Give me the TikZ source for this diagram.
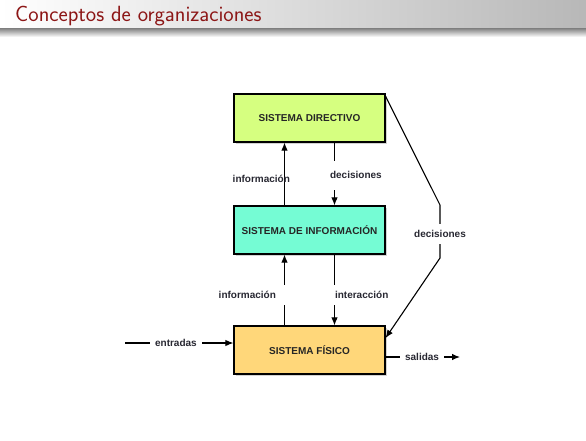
\documentclass[tikz,border=0pt]{standalone}
\usepackage{fontspec}
\setmainfont{Liberation Sans}
\usepackage{xcolor}
\usetikzlibrary{shadows, arrows.meta}

\definecolor{titlered}{RGB}{140,22,22}
\definecolor{dirgreen}{RGB}{214,255,128}
\definecolor{infocyan}{RGB}{117,252,212}
\definecolor{fisorange}{RGB}{255,215,122}
\definecolor{labelgray}{RGB}{40,40,50}

\begin{document}
\begin{tikzpicture}[
  x=1pt, y=-1pt,
  box/.style={draw=black, line width=1.2pt, minimum width=151pt, minimum height=48pt,
    font=\bfseries\fontsize{10}{12}\selectfont, text=black!85, align=center,
    drop shadow={shadow xshift=2pt, shadow yshift=-2pt, opacity=0.35}},
  lbl/.style={font=\bfseries\fontsize{10}{12}\selectfont, text=labelgray, inner sep=0pt},
  gap/.style={fill=white, inner xsep=3pt, inner ysep=8pt},
  arrow/.style={line width=1.1pt, -{Latex[length=8pt, width=6.5pt]}}
]
  \useasboundingbox (0,0) rectangle (586,441);

  % header bar
  \shade[left color=white, right color=black!28] (0,0) rectangle (586,29);
  \shade[top color=black!45, bottom color=white] (0,29) rectangle (586,37);
  \node[anchor=base west, inner sep=0pt, text=titlered,
    font=\sffamily\fontsize{22}{26}\selectfont] (title) at (15,21.5) {Conceptos de organizaciones};

  % boxes
  \node[box, fill=dirgreen] (dir) at (309.5,118) {SISTEMA DIRECTIVO};
  \node[box, fill=infocyan] (info) at (309.5,230) {SISTEMA DE INFORMACIÓN};
  \node[box, fill=fisorange] (fis) at (309.5,350) {SISTEMA FÍSICO};

  \coordinate (in) at (125,343);
  \coordinate (out) at (460,357);
  \coordinate (bend1) at (440,205);
  \coordinate (bend2) at (440,258);

  % connectors
  \draw[arrow] ([xshift=-25pt]info.north) -- ([xshift=-25pt]dir.south)
    node[lbl, pos=0.42, anchor=east, xshift=6pt] {información};
  \draw[arrow] ([xshift=25pt]dir.south) -- ([xshift=25pt]info.north)
    node[lbl, gap, pos=0.52, anchor=west, xshift=-8pt, inner ysep=11pt] {decisiones};
  \draw[arrow] ([xshift=-25pt]fis.north) -- ([xshift=-25pt]info.south)
    node[lbl, gap, pos=0.43, anchor=east, xshift=6pt, inner xsep=14pt, inner ysep=6pt] {información};
  \draw[arrow] ([xshift=25pt]info.south) -- ([xshift=25pt]fis.north)
    node[lbl, gap, pos=0.57, anchor=west, xshift=-3pt, inner ysep=6pt] {interacción};
  \draw[arrow] ([yshift=-3pt]dir.north east) -- (bend1) -- (bend2)
    node[lbl, gap, pos=0.55, inner ysep=6pt] {decisiones}
    -- ([yshift=12pt]fis.east);
  \draw[arrow] (in) -- ([yshift=7pt]fis.west)
    node[lbl, gap, pos=0.47, inner xsep=5pt, inner ysep=4pt] {entradas};
  \draw[arrow] ([yshift=-7pt]fis.east) -- (out)
    node[lbl, gap, pos=0.49, inner xsep=5pt, inner ysep=4pt] {salidas};
\end{tikzpicture}
\end{document}
